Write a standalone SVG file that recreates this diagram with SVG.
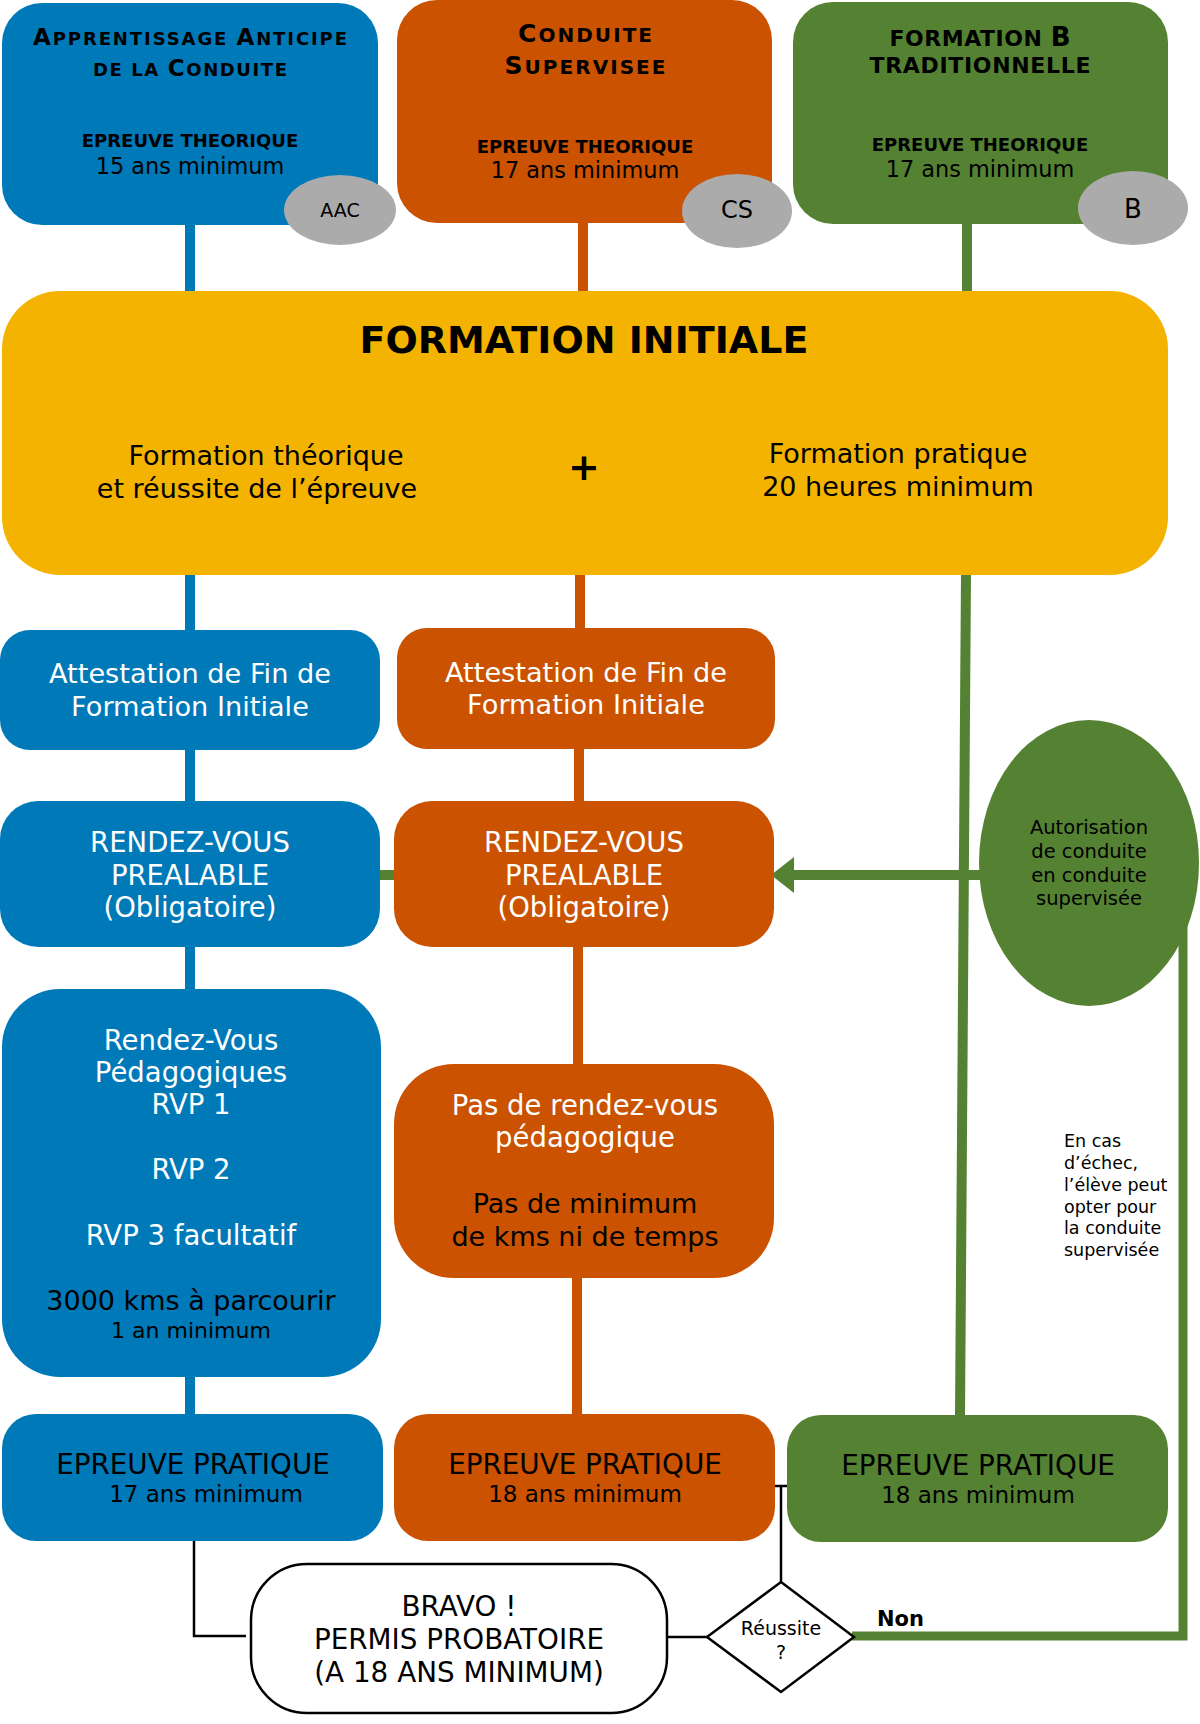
<svg xmlns="http://www.w3.org/2000/svg" width="1200" height="1724" viewBox="0 0 1200 1724">
<style>
text{font-family:"DejaVu Sans",Verdana,sans-serif;text-anchor:middle;fill:#000}
.w{fill:#fff}
.b{font-weight:bold}
.t18{font-size:18px}.t19{font-size:19.5px}.t20{font-size:20px}.t22{font-size:22px}.t23{font-size:23px}.t25{font-size:25px}.t27{font-size:27px}.t275{font-size:27.5px}.t28{font-size:27.8px}.t38{font-size:38px}
.blue{fill:#0079B9}.orange{fill:#CB5200}.green{fill:#548232}.yellow{fill:#F4B300}.gray{fill:#ABABAB}
.cb{stroke:#0079B9;stroke-width:10;fill:none}
.co{stroke:#CB5200;stroke-width:10;fill:none}
.cg{stroke:#548232;stroke-width:10;fill:none}
.ck{stroke:#000;stroke-width:2.5;fill:none}
.note{font-size:17.5px;text-anchor:start}
</style>
<g id="connectors">
<line class="cb" x1="190" y1="225" x2="190" y2="292"/>
<line class="co" x1="583" y1="222" x2="583" y2="292"/>
<line class="cg" x1="967" y1="223" x2="967" y2="292"/>
<line class="cb" x1="190" y1="573" x2="190" y2="631"/>
<line class="co" x1="580" y1="573" x2="580" y2="629"/>
<line class="cb" x1="190" y1="749" x2="190" y2="802"/>
<line class="co" x1="579" y1="748" x2="579" y2="802"/>
<line class="cb" x1="190" y1="946" x2="190" y2="989"/>
<line class="co" x1="578" y1="946" x2="578" y2="1064"/>
<line class="cb" x1="190" y1="1376" x2="190" y2="1415"/>
<line class="co" x1="577" y1="1277" x2="577" y2="1415"/>
<line class="cg" x1="966" y1="573" x2="960" y2="1416"/>
<line class="cg" x1="378" y1="875" x2="395" y2="875"/>
<line class="cg" x1="980" y1="875" x2="790" y2="875"/>
<polygon points="771,875 794,857 794,893" fill="#548232"/>
<polyline points="1183,920 1183,1636 852,1636" stroke="#548232" stroke-width="9" fill="none"/>
<polyline class="ck" points="194,1539 194,1636 246,1636"/>
<line class="ck" x1="667" y1="1637" x2="707" y2="1637"/>
<line class="ck" x1="775" y1="1486" x2="787" y2="1486"/>
<line class="ck" x1="781" y1="1486" x2="781" y2="1582"/>
</g>
<g id="aac">
<rect class="blue" x="2" y="3" width="376" height="222" rx="40"/>
<text class="b t18" x="190" y="45" textLength="314" lengthAdjust="spacing"><tspan class="t23">A</tspan>PPRENTISSAGE <tspan class="t23">A</tspan>NTICIPE</text>
<text class="b t18" x="190" y="76" textLength="194" lengthAdjust="spacing">DE LA <tspan class="t23">C</tspan>ONDUITE</text>
<text class="b t18" x="190" y="147">EPREUVE THEORIQUE</text>
<text style="font-size:22.4px" x="190" y="174">15 ans minimum</text>
<ellipse class="gray" cx="340" cy="210" rx="56" ry="35"/>
<text style="font-size:19px" x="340" y="217">AAC</text>
</g>
<g id="cs">
<rect class="orange" x="397" y="0" width="375" height="223" rx="40"/>
<text class="b t20" x="585" y="42" textLength="134" lengthAdjust="spacing"><tspan class="t25">C</tspan>ONDUITE</text>
<text class="b t20" x="585" y="74" textLength="161" lengthAdjust="spacing"><tspan class="t25">S</tspan>UPERVISEE</text>
<text class="b t18" x="585" y="153">EPREUVE THEORIQUE</text>
<text style="font-size:22.4px" x="585" y="178">17 ans minimum</text>
<ellipse class="gray" cx="737" cy="211" rx="55" ry="37"/>
<text style="font-size:24px" x="737" y="218">CS</text>
</g>
<g id="b">
<rect class="green" x="793" y="2" width="375" height="222" rx="40"/>
<text class="b t22" x="980" y="46" textLength="181" lengthAdjust="spacing">FORMATION <tspan style="font-size:26px">B</tspan></text>
<text class="b t22" x="980" y="73" textLength="221" lengthAdjust="spacing">TRADITIONNELLE</text>
<text class="b t18" x="980" y="151">EPREUVE THEORIQUE</text>
<text style="font-size:22.4px" x="980" y="177">17 ans minimum</text>
<ellipse class="gray" cx="1133" cy="208" rx="55" ry="37"/>
<text style="font-size:26px" x="1133" y="218">B</text>
</g>
<g id="formation-initiale">
<rect class="yellow" x="2" y="291" width="1166" height="284" rx="58"/>
<text class="b t38" x="584" y="353">FORMATION INITIALE</text>
<text class="t27" x="266" y="465">Formation théorique</text>
<text class="t27" x="257" y="498">et réussite de l’épreuve</text>
<text class="b" style="font-size:38px" x="584" y="480">+</text>
<text class="t27" x="898" y="463">Formation pratique</text>
<text class="t27" x="898" y="496">20 heures minimum</text>
</g>
<g id="attestation-aac">
<rect class="blue" x="0" y="630" width="380" height="120" rx="30"/>
<text class="w" style="font-size:27.2px" x="190" y="683">Attestation de Fin de</text>
<text class="w" style="font-size:27.2px" x="190" y="716">Formation Initiale</text>
</g>
<g id="attestation-cs">
<rect class="orange" x="397" y="628" width="378" height="121" rx="30"/>
<text class="w" style="font-size:27.2px" x="586" y="682">Attestation de Fin de</text>
<text class="w" style="font-size:27.2px" x="586" y="714">Formation Initiale</text>
</g>
<g id="rdv-aac">
<rect class="blue" x="0" y="801" width="380" height="146" rx="38"/>
<text class="t275 w" x="190" y="852">RENDEZ-VOUS</text>
<text class="t275 w" x="190" y="885">PREALABLE</text>
<text class="t275 w" x="190" y="917">(Obligatoire)</text>
</g>
<g id="rdv-cs">
<rect class="orange" x="394" y="801" width="380" height="146" rx="38"/>
<text class="t275 w" x="584" y="852">RENDEZ-VOUS</text>
<text class="t275 w" x="584" y="885">PREALABLE</text>
<text class="t275 w" x="584" y="917">(Obligatoire)</text>
</g>
<g id="autorisation">
<ellipse class="green" cx="1089" cy="863" rx="110" ry="143"/>
<text class="t19" x="1089" y="834">Autorisation</text>
<text class="t19" x="1089" y="858">de conduite</text>
<text class="t19" x="1089" y="882">en conduite</text>
<text class="t19" x="1089" y="905">supervisée</text>
</g>
<g id="rvp-aac">
<rect class="blue" x="2" y="989" width="379" height="388" rx="58"/>
<text class="t275 w" x="191" y="1050">Rendez-Vous</text>
<text class="t275 w" x="191" y="1082">Pédagogiques</text>
<text class="t275 w" x="191" y="1114">RVP 1</text>
<text class="t275 w" x="191" y="1179">RVP 2</text>
<text class="t275 w" x="191" y="1245">RVP 3 facultatif</text>
<text class="t27" x="191" y="1310">3000 kms à parcourir</text>
<text class="t22" x="191" y="1338">1 an minimum</text>
</g>
<g id="pas-rvp-cs">
<rect class="orange" x="394" y="1064" width="380" height="214" rx="60"/>
<text class="t275 w" x="585" y="1115">Pas de rendez-vous</text>
<text class="t275 w" x="585" y="1147">pédagogique</text>
<text class="t27" x="585" y="1213">Pas de minimum</text>
<text class="t27" x="585" y="1246">de kms ni de temps</text>
</g>
<g id="note-echec">
<text class="note" x="1064" y="1147">En cas</text>
<text class="note" x="1064" y="1169">d’échec,</text>
<text class="note" x="1064" y="1191">l’élève peut</text>
<text class="note" x="1064" y="1213">opter pour</text>
<text class="note" x="1064" y="1234">la conduite</text>
<text class="note" x="1064" y="1256">supervisée</text>
</g>
<g id="epreuve-aac">
<rect class="blue" x="2" y="1414" width="381" height="127" rx="34"/>
<text class="t28" x="193" y="1474">EPREUVE PRATIQUE</text>
<text class="t23" x="206" y="1502">17 ans minimum</text>
</g>
<g id="epreuve-cs">
<rect class="orange" x="394" y="1414" width="381" height="127" rx="34"/>
<text class="t28" x="585" y="1474">EPREUVE PRATIQUE</text>
<text class="t23" x="585" y="1502">18 ans minimum</text>
</g>
<g id="epreuve-b">
<rect class="green" x="787" y="1415" width="381" height="127" rx="34"/>
<text class="t28" x="978" y="1475">EPREUVE PRATIQUE</text>
<text class="t23" x="978" y="1503">18 ans minimum</text>
</g>
<g id="bravo">
<rect x="251" y="1564" width="416" height="149" rx="56" fill="#fff" stroke="#000" stroke-width="2.5"/>
<text class="t28" x="459" y="1616">BRAVO !</text>
<text class="t28" x="459" y="1649">PERMIS PROBATOIRE</text>
<text class="t28" x="459" y="1682">(A 18 ANS MINIMUM)</text>
</g>
<g id="reussite">
<polygon points="781,1582 854,1637 781,1692 707,1637" fill="#fff" stroke="#000" stroke-width="2.5"/>
<text style="font-size:19px" x="781" y="1635">Réussite</text>
<text style="font-size:19px" x="781" y="1659">?</text>
</g>
<text class="b" x="877" y="1626" style="font-size:21px;text-anchor:start">Non</text>
</svg>
